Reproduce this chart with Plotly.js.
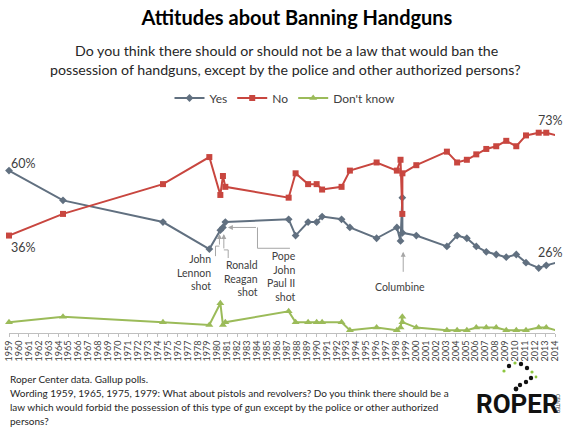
<!DOCTYPE html>
<html>
<head>
<meta charset="utf-8">
<script src="https://cdn.plot.ly/plotly-3.0.1.min.js"></script>
<style>html,body{margin:0;padding:0;background:#fff;}#chart{width:570px;height:427px;}</style>
</head>
<body>
<div id="chart"></div>
<script>
// ---- data (decimal years of poll dates, percentages) ----
const pollDates = [1959.0, 1964.44, 1974.51, 1979.18, 1980.29, 1980.55, 1980.79, 1987.17, 1987.87, 1989.13, 1989.99, 1990.54, 1992.5, 1993.34, 1996.03, 1998.07, 1998.44, 1998.62, 1998.63, 2000.03, 2003.11, 2004.14, 2005.12, 2006.07, 2007.08, 2008.08, 2009.09, 2010.1, 2011.08, 2012.36, 2013.12, 2014.13];
const yesValues = [60, 49, 41, 31, 38, 39, 41, 42, 36, 41, 41, 43, 42, 39, 35, 39, 34, 50, 37, 36, 32, 36, 35, 32, 30, 29, 28, 29, 26, 24, 25, 26];
const noValues = [36, 44, 55, 65, 51, 58, 54, 50, 59, 55, 55, 53, 54, 60, 63, 60, 64, 44, 59, 62, 67, 63, 64, 66, 68, 69, 71, 69, 73, 74, 74, 73];
const dkValues = [4, 6, 4, 3, 11, 3, 4, 8, 4, 4, 4, 4, 4, 1, 2, 1, 2, 6, 4, 2, 1, 1, 1, 2, 2, 2, 1, 1, 1, 2, 2, 1];
const tickYears = [];
for (let y = 1959; y <= 2014; y++) tickYears.push(y);
const tickLabels = tickYears.map(String);
const seriesNames = ['Yes', 'No', "Don't know"];

// ---- layout helpers (pixel -> paper) ----
const L = 9, R = 15, T = 130, B = 94, W = 570, H = 427;
const PW = W - L - R, PH = H - T - B;
const px = x => (x - L) / PW;
const py = y => (H - B - y) / PH;

const FONT = 'Lato, "Liberation Sans", sans-serif';
const TXT = '#404040';
const C_YES = '#617080', C_NO = '#c8463f', C_DK = '#9bbb59', C_ARR = '#a6a6a6';

const traces = [
  {x: pollDates, y: yesValues, name: seriesNames[0], type: 'scatter', mode: 'lines+markers',
   line: {color: C_YES, width: 2}, marker: {symbol: 'diamond', size: 6, color: C_YES}, cliponaxis: false},
  {x: pollDates, y: noValues, name: seriesNames[1], type: 'scatter', mode: 'lines+markers',
   line: {color: C_NO, width: 2}, marker: {symbol: 'square', size: 6, color: C_NO}, cliponaxis: false},
  {x: pollDates, y: dkValues, name: seriesNames[2], type: 'scatter', mode: 'lines+markers',
   line: {color: C_DK, width: 2}, marker: {symbol: 'triangle-up', size: 7, color: C_DK}, cliponaxis: false}
];

function ann(text, x, y, opts) {
  return Object.assign({text: text, x: x, y: y, xref: 'x', yref: 'y', showarrow: false,
    xanchor: 'center', yanchor: 'middle',
    font: {family: FONT, size: 10.5, color: TXT}}, opts || {});
}
function pann(text, x, y, opts) {
  return Object.assign({text: text, x: px(x), y: py(y), xref: 'paper', yref: 'paper', showarrow: false,
    xanchor: 'center', yanchor: 'middle',
    font: {family: FONT, size: 12, color: TXT}}, opts || {});
}
function arrow(x0, y0, x1, y1) {
  return {x: x1, y: y1, ax: x0, ay: y0, xref: 'x', yref: 'y', axref: 'x', ayref: 'y',
    text: '', showarrow: true, arrowhead: 2, arrowsize: 1, arrowwidth: 1, arrowcolor: C_ARR, standoff: 0};
}
function pline(pts) {
  return {type: 'path', xref: 'x', yref: 'y', path: 'M ' + pts.map(p => p.join(',')).join(' L '),
    line: {color: C_ARR, width: 1}};
}

const SUB = {family: FONT, size: 14.2, color: '#262626'};
const FOOT = {family: FONT, size: 10, color: '#262626'};
const PCT = {family: FONT, size: 12.5, color: TXT};

const annotations = [
  pann('Do you think there should or should not be a law that would ban the', 286, 50, {font: SUB}),
  pann('possession of handguns, except by the police and other authorized persons?', 285, 70, {font: SUB}),
  pann('60%', 23.3, 163.3, {font: PCT}),
  pann('36%', 23.3, 247.3, {font: PCT}),
  pann('73%', 550.5, 120.7, {font: PCT}),
  pann('26%', 550.5, 252.7, {font: PCT}),
  ann('John<br>Lennon<br>shot', 1979.51, 30.2, {xanchor: 'right', yanchor: 'top', align: 'right'}),
  ann('Ronald<br>Reagan<br>shot', 1984.28, 28.0, {xanchor: 'right', yanchor: 'top', align: 'right'}),
  ann('Pope<br>John<br>Paul II<br>shot', 1988.13, 31.3, {xanchor: 'right', yanchor: 'top', align: 'right'}),
  ann('Columbine', 1998.41, 17.1, {font: {family: FONT, size: 10.5, color: TXT}}),
  arrow(1980.20, 32.1, 1980.20, 36.6),
  arrow(1980.64, 30.7, 1980.64, 36.6),
  arrow(1984.03, 39.0, 1981.05, 39.0),
  arrow(1998.71, 22.05, 1998.71, 30.0),
  // footer
  pann('Roper Center data. Gallup polls.', 8, 379, {xanchor: 'left', font: FOOT}),
  pann('Wording 1959, 1965, 1975, 1979: What about pistols and revolvers? Do you think there should be a', 8, 393, {xanchor: 'left', font: FOOT}),
  pann('law which would forbid the possession of this type of gun except by the police or other authorized', 8, 407, {xanchor: 'left', font: FOOT}),
  pann('persons?', 8, 421, {xanchor: 'left', font: FOOT}),
  // logo
  pann('<b>ROPER</b>', 517, 404, {font: {family: 'Roboto, "Liberation Sans", sans-serif', size: 26, color: '#111'}}),
  pann('CENTER', 558, 404, {textangle: 90, font: {family: FONT, size: 5, color: '#333'}})
];

const shapes = [
  pline([[1979.80, 28.4], [1979.80, 32.1], [1980.20, 32.1]]),
  pline([[1981.08, 27.7], [1981.08, 30.7], [1980.64, 30.7]]),
  pline([[1987.30, 31.3], [1984.03, 31.3], [1984.03, 39.0]])
];
// logo dots
const dots = [[509,366,'#111',2.2],[515,363,'#8dc63f',1.6],[521,364,'#111',2.2],[527,368,'#111',2.2],[532,372,'#8dc63f',1.6],
  [531,378,'#111',2.2],[526,382,'#111',2.2],[520,385,'#111',2.2],[516,389,'#111',2.4],[504,371,'#8dc63f',1.6],[536,377,'#8dc63f',1.4]];
dots.forEach(d => shapes.push({type: 'circle', xref: 'paper', yref: 'paper',
  x0: px(d[0]-d[3]), x1: px(d[0]+d[3]), y0: py(d[1]+d[3]), y1: py(d[1]-d[3]), fillcolor: d[2], line: {width: 0}}));

const layout = {
  width: W, height: H,
  margin: {l: L, r: R, t: T, b: B},
  paper_bgcolor: '#fff', plot_bgcolor: '#fff',
  title: {text: '<b>Attitudes about Banning Handguns</b>', x: 0.521, xref: 'container', xanchor: 'center',
          y: 1 - 18 / H, yref: 'container', yanchor: 'middle', font: {family: FONT, size: 20, color: '#000'}},
  showlegend: true,
  legend: {orientation: 'h', x: px(285), xanchor: 'center', y: py(98), yanchor: 'middle',
           font: {family: FONT, size: 12, color: TXT}, bgcolor: 'rgba(0,0,0,0)'},
  xaxis: {range: [1959, 2014], tickmode: 'array', tickvals: tickYears, ticktext: tickLabels, tickangle: -90,
          ticks: 'outside', ticklen: 3, tickcolor: '#bfbfbf', showline: true, linecolor: '#bfbfbf', linewidth: 1,
          showgrid: false, zeroline: false, tickfont: {family: FONT, size: 9, color: TXT}},
  yaxis: {range: [0, 75], visible: false, fixedrange: true},
  annotations: annotations,
  shapes: shapes
};

Plotly.newPlot('chart', traces, layout, {displayModeBar: false, staticPlot: true});
</script>
</body>
</html>
